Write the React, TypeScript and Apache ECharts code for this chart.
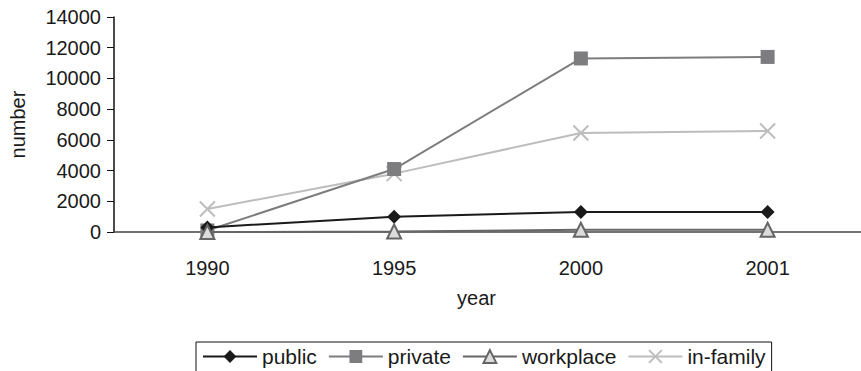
import React, { useEffect, useRef } from "react";
import * as echarts from "echarts";

const years = ["1990", "1995", "2000", "2001"];
const publicVals = [300, 1000, 1300, 1300];
const privateVals = [100, 4100, 11300, 11400];
const workplaceVals = [0, 30, 150, 150];
const inFamilyVals = [1500, 3800, 6450, 6580];

const FONT = "'Liberation Sans', Arial, sans-serif";
const CROSS = "path://M0,0L10,10M10,0L0,10";
const TEXT = "#1a1a1a";

export default function App() {
  const ref = useRef<HTMLDivElement>(null);

  useEffect(() => {
    const chart = echarts.init(ref.current!, undefined, { renderer: "svg" });
    chart.setOption({
      animation: false,
      backgroundColor: "#fff",
      textStyle: { fontFamily: FONT },
      grid: { left: 110, right: 0, top: 17, bottom: 139, containLabel: false },
      legend: {
        left: 196,
        top: 342,
        padding: [4, 6, 8, 6],
        itemGap: 11,
        itemWidth: 54,
        itemHeight: 16,
        borderColor: "#111",
        borderWidth: 1,
        textStyle: { fontSize: 21, color: TEXT, fontFamily: FONT },
        data: ["public", "private", "workplace", "in-family"],
      },
      xAxis: {
        type: "category",
        data: years,
        boundaryGap: true,
        name: "year",
        nameLocation: "middle",
        nameGap: 56,
        nameTextStyle: { fontSize: 20, color: TEXT, fontFamily: FONT, padding: [0, 22, 0, 0] },
        axisLine: { lineStyle: { color: "#444", width: 1.5 } },
        axisTick: { inside: true, length: 8, lineStyle: { color: "#222" } },
        axisLabel: { fontSize: 20, color: TEXT, margin: 26, fontFamily: FONT },
      },
      yAxis: {
        type: "value",
        min: 0,
        max: 14000,
        interval: 2000,
        name: "number",
        nameLocation: "middle",
        nameGap: 86,
        nameTextStyle: { fontSize: 20, color: TEXT, fontFamily: FONT },
        splitLine: { show: false },
        axisLine: { show: true, lineStyle: { color: "#111", width: 1.5 } },
        axisTick: { show: true, length: 7, lineStyle: { color: "#111" } },
        axisLabel: {
          fontSize: 20,
          color: TEXT,
          margin: 13,
          fontFamily: FONT,
          formatter: (v: number) => String(v),
        },
      },
      series: [
        {
          name: "public",
          type: "line",
          data: publicVals,
          symbol: "diamond",
          symbolSize: 14,
          lineStyle: { color: "#1a1a1a", width: 2 },
          itemStyle: { color: "#1a1a1a" },
          z: 4,
        },
        {
          name: "private",
          type: "line",
          data: privateVals,
          symbol: "rect",
          symbolSize: 14,
          lineStyle: { color: "#7d7d80", width: 2 },
          itemStyle: { color: "#7d7d80" },
          z: 3,
        },
        {
          name: "workplace",
          type: "line",
          data: workplaceVals,
          symbol: "triangle",
          symbolSize: 14,
          lineStyle: { color: "#666", width: 2 },
          itemStyle: { color: "#dcdcdc", borderColor: "#666", borderWidth: 2 },
          z: 5,
        },
        {
          name: "in-family",
          type: "line",
          data: inFamilyVals,
          symbol: CROSS,
          symbolSize: 15,
          lineStyle: { color: "#bdbdbd", width: 2 },
          itemStyle: { color: "none", borderColor: "#bdbdbd", borderWidth: 2 },
          z: 2,
        },
      ],
    });
    return () => chart.dispose();
  }, []);

  return <div ref={ref} style={{ width: 861, height: 371, position: "absolute", left: 0, top: 0 }} />;
}
